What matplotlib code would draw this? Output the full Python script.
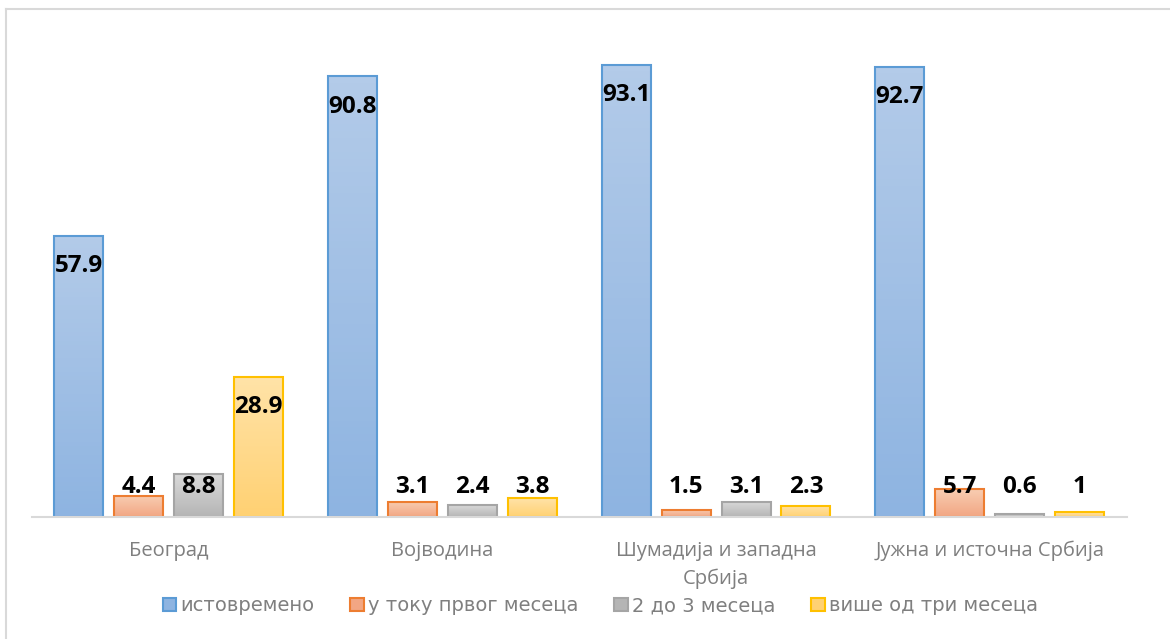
import matplotlib
matplotlib.use('Agg')
import matplotlib.pyplot as plt
import matplotlib.patches as mpatches
import matplotlib.lines as mlines
import numpy as np
from matplotlib.colors import LinearSegmentedColormap

regions = ['Београд', 'Војводина', 'Шумадија и западна\nСрбија', 'Јужна и источна Србија']
series = ['истовремено', 'у току првог месеца', '2 до 3 месеца', 'више од три месеца']
istovremeno = [57.9, 90.8, 93.1, 92.7]
prvi_mesec = [4.4, 3.1, 1.5, 5.7]
dva_tri = [8.8, 2.4, 3.1, 0.6]
vise_od_tri = [28.9, 3.8, 2.3, 1]
labels = [['57.9', '90.8', '93.1', '92.7'],
          ['4.4', '3.1', '1.5', '5.7'],
          ['8.8', '2.4', '3.1', '0.6'],
          ['28.9', '3.8', '2.3', '1']]

# (top colour, bottom colour, edge colour)
styles = [('#b3cbe9', '#8eb4e1', '#5b9bd5'),
          ('#f8cdb2', '#f2a683', '#ed7d31'),
          ('#d9d9d9', '#b5b5b5', '#a5a5a5'),
          ('#ffe3a8', '#ffd173', '#ffc000')]

fig = plt.figure(figsize=(11.7, 6.39), dpi=100)
ax = fig.add_axes([0.027, 0.191, 0.936, 0.760])

# outer chart border (top and left only visible)
fig.add_artist(mlines.Line2D([0.005, 1.0], [0.986, 0.986], color='#d9d9d9', lw=1.5))
fig.add_artist(mlines.Line2D([0.005, 0.005], [0.0, 0.986], color='#d9d9d9', lw=1.5))

x = np.arange(len(regions))
width = 0.179
step = 0.219
grad = np.linspace(1, 0, 64).reshape(-1, 1)
lab_font = ['Open Sans', 'DejaVu Sans']

for i, vals in enumerate([istovremeno, prvi_mesec, dva_tri, vise_od_tri]):
    top, bot, edge = styles[i]
    cmap = LinearSegmentedColormap.from_list('g%d' % i, [bot, top])
    pos = x + (i - 1.5) * step
    for j in range(len(regions)):
        ax.imshow(grad, extent=[pos[j] - width / 2, pos[j] + width / 2, 0, vals[j]],
                  cmap=cmap, aspect='auto', zorder=2, vmin=0, vmax=1)
    ax.bar(pos, vals, width, facecolor='none', edgecolor=edge, linewidth=1.5, zorder=3)
    # inside-end labels, clamped so short bars keep the label above the axis
    for j in range(len(regions)):
        ax.annotate(labels[i][j], (pos[j], max(vals[j], 12.4)), xytext=(0, -22),
                    textcoords='offset points', ha='center', va='center',
                    fontsize=17.5, fontweight='bold', family=lab_font, zorder=5)

ax.set_xlim(-0.5, 3.5)
ax.set_ylim(0, 100)
ax.set_xticks(x)
ax.set_xticklabels(regions, fontsize=14.5, color='#7f7f7f', family=['Open Sans', 'DejaVu Sans'],
                   linespacing=1.5)
ax.tick_params(axis='x', length=0, pad=17)
ax.set_yticks([])
for s in ['top', 'right', 'left']:
    ax.spines[s].set_visible(False)
ax.spines['bottom'].set_color('#d9d9d9')
ax.spines['bottom'].set_linewidth(1.5)
ax.spines['bottom'].set_zorder(4)

handles = [mpatches.Patch(facecolor=s[1], edgecolor=s[2], linewidth=1.5) for s in styles]
leg = fig.legend(handles, series, loc='center', bbox_to_anchor=(0.513, 0.052), ncol=4,
                 frameon=False, handlelength=0.7, handleheight=0.7, handletextpad=0.2,
                 columnspacing=1.85,
                 prop={'family': ['DejaVu Sans'], 'size': 14})
for t in leg.get_texts():
    t.set_color('#7f7f7f')

fig.savefig('out.png', dpi=100)
